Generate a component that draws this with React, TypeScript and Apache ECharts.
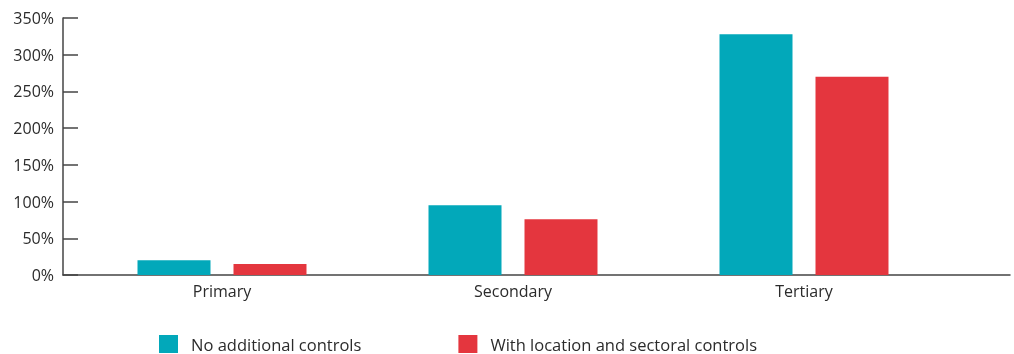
import React, { useEffect, useRef } from "react";
import * as echarts from "echarts";

const categories = ["Primary", "Secondary", "Tertiary"];
const noControls = [20, 95, 328];
const withControls = [15, 76, 270];
const seriesNames = ["No additional controls", "With location and sectoral controls"];
const yTicks = { min: 0, max: 350, interval: 50 };

const TEAL = "#02A8BA";
const RED = "#E4363E";
const AXIS = "#444444";
const TEXT = "#2b2b2b";
const FONT = "'Open Sans', 'Noto Sans', sans-serif";

export default function App() {
  const ref = useRef<HTMLDivElement>(null);
  useEffect(() => {
    const chart = echarts.init(ref.current!, null, { renderer: "svg" });
    chart.setOption({
      animation: false,
      textStyle: { fontFamily: FONT },
      grid: [
        { left: 76.5, right: 64.5, top: 18, bottom: 79 },
        { left: 63, right: 4, top: 18, bottom: 79 },
      ],
      legend: {
        left: 159,
        top: 335,
        padding: 0,
        itemWidth: 19,
        itemHeight: 18,
        itemGap: 97,
        icon: "rect",
        textStyle: { fontSize: 16.5, color: TEXT, fontFamily: FONT, padding: [0, 0, 0, 8] },
        data: seriesNames,
      },
      xAxis: [
        {
          type: "category",
          gridIndex: 0,
          data: categories,
          axisLine: { show: false },
          axisTick: { show: false },
          axisLabel: { fontSize: 16, color: TEXT, margin: 8, fontFamily: FONT },
        },
        {
          type: "value",
          gridIndex: 1,
          min: 0,
          max: 1,
          axisLine: { show: true, lineStyle: { color: AXIS, width: 1.5 } },
          axisTick: { show: false },
          axisLabel: { show: false },
          splitLine: { show: false },
        },
      ],
      yAxis: [
        {
          type: "value",
          gridIndex: 0,
          ...yTicks,
          show: false,
        },
        {
          type: "value",
          gridIndex: 1,
          ...yTicks,
          axisLine: { show: true, lineStyle: { color: AXIS, width: 1.5 } },
          axisTick: { show: true, inside: true, length: 15, lineStyle: { color: AXIS, width: 1.5 } },
          axisLabel: { fontSize: 16, color: TEXT, margin: 9, formatter: "{value}%", fontFamily: FONT },
          splitLine: { show: false },
        },
      ],
      series: [
        {
          name: seriesNames[0],
          type: "bar",
          xAxisIndex: 0,
          yAxisIndex: 0,
          data: noControls,
          barWidth: 73,
          barGap: "31.5%",
          itemStyle: { color: TEAL },
        },
        {
          name: seriesNames[1],
          type: "bar",
          xAxisIndex: 0,
          yAxisIndex: 0,
          data: withControls,
          barWidth: 73,
          barGap: "31.5%",
          itemStyle: { color: RED },
        },
      ],
    });
    return () => chart.dispose();
  }, []);
  return (
    <div
      ref={ref}
      style={{ position: "fixed", left: 0, top: 0, width: 1014, height: 354 }}
    />
  );
}
